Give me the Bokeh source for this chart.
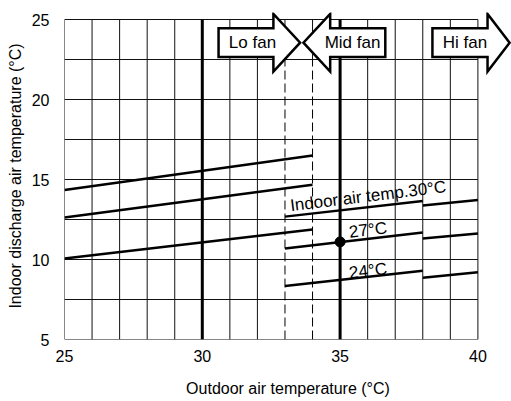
import numpy as np
from bokeh.plotting import figure
from bokeh.models import Range1d, FixedTicker
from bokeh.core.properties import value
from bokeh.embed import file_html
from bokeh.resources import INLINE

# ---- data ----
lofan_x = [25, 34]
lofan_30 = [14.35, 16.50]
lofan_27 = [12.63, 14.67]
lofan_24 = [10.06, 11.88]

mid_x = [33, 38]
hi_x = [38, 40]
mid_30 = [12.68, 13.66]
hi_30 = [13.38, 13.72]
mid_27 = [10.69, 11.69]
hi_27 = [11.31, 11.62]
mid_24 = [8.35, 9.30]
hi_24 = [8.86, 9.20]

design_x = [35]
design_y = [11.1]

x_ticks = [25, 30, 35, 40]
y_ticks = [5, 10, 15, 20, 25]

curve_labels = ["Indoor air temp.30°C", "27°C", "24°C"]
label_x = [33.19, 35.33, 35.33]
label_y = [13.36, 11.70, 9.15]

fan_labels = ["Lo fan", "Mid fan", "Hi fan"]
fan_tail = [30.59, 36.64, 38.35]
fan_base = [32.58, 34.64, 40.35]
fan_tip = [33.55, 33.67, 41.15]
fan_text_x = [31.82, 35.45, 39.53]

FONT = "Liberation Sans"
X0, X1, Y0, Y1 = 25, 40, 5, 25
FW, FH = 447, 327
xs_per_unit = 27.56
ys_per_unit = 16.0

p = figure(frame_width=FW, frame_height=FH,
           x_range=Range1d(X0, X0 + FW / xs_per_unit),
           y_range=Range1d(Y0, Y0 + FH / ys_per_unit),
           output_backend="svg", toolbar_location=None,
           min_border_left=64, min_border_right=0,
           min_border_top=12, min_border_bottom=62)
p.outline_line_color = None
p.xgrid.visible = False
p.ygrid.visible = False

for ax, ticks in ((p.xaxis, x_ticks), (p.yaxis, y_ticks)):
    ax.ticker = FixedTicker(ticks=ticks)
    ax.axis_line_color = None
    ax.major_tick_line_color = None
    ax.minor_tick_line_color = None
    ax.major_tick_out = 0
    ax.major_tick_in = 0
    ax.minor_tick_out = 0
    ax.major_label_text_font = FONT
    ax.major_label_text_font_size = "16px"
    ax.major_label_text_color = "black"
    ax.axis_label_text_font = FONT
    ax.axis_label_text_font_size = "16px"
    ax.axis_label_text_font_style = "normal"
    ax.axis_label_text_color = "black"

p.xaxis.axis_label = "Outdoor air temperature (°C)"
p.yaxis.axis_label = "Indoor discharge air temperature (°C)"
p.xaxis.major_label_standoff = 10
p.xaxis.axis_label_standoff = 15
p.yaxis.major_label_standoff = 15
p.yaxis.axis_label_standoff = 5

# ---- grid ----
gx = [x for x in range(X0, X1 + 1) if x not in (30, 35, 33, 34)]
p.segment(x0=gx, y0=[Y0] * len(gx), x1=gx, y1=[Y1] * len(gx),
          line_color="#111111", line_width=1)
gy = list(np.arange(Y0, Y1 + 0.1, 2.5))
p.segment(x0=[X0] * len(gy), y0=gy, x1=[X1] * len(gy), y1=gy,
          line_color="#111111", line_width=1)
# dashed fan-switch lines
p.segment(x0=[33, 34], y0=[22.5, 22.5], x1=[33, 34], y1=[Y1, Y1],
          line_color="#111111", line_width=1)
p.segment(x0=[33, 34], y0=[Y0, Y0], x1=[33, 34], y1=[22.5, 22.5],
          line_color="black", line_width=1, line_dash="9 4")
# heavy lines
p.segment(x0=[30, 35], y0=[Y0, Y0], x1=[30, 35], y1=[Y1, Y1],
          line_color="black", line_width=3)

# ---- curves ----
for ys in (lofan_30, lofan_27, lofan_24):
    p.line(lofan_x, ys, line_color="black", line_width=2.5)
for ys in (mid_30, mid_27, mid_24):
    p.line(mid_x, ys, line_color="black", line_width=2.5)
for ys in (hi_30, hi_27, hi_24):
    p.line(hi_x, ys, line_color="black", line_width=2.5)

p.scatter(design_x, design_y, size=10, fill_color="black", line_color="black")

p.text(x=label_x, y=label_y, text=curve_labels, angle=7, angle_units="deg",
       text_font=value(FONT), text_font_size="17px", text_color="black",
       text_align="left", text_baseline="alphabetic")

# ---- fan arrows ----
cy, bh, hh = 23.55, 0.9, 1.8
pxs, pys = [], []
for t, b, tip in zip(fan_tail, fan_base, fan_tip):
    pxs.append([t, b, b, tip, b, b, t])
    pys.append([cy - bh, cy - bh, cy - hh, cy, cy + hh, cy + bh, cy + bh])
p.patches(pxs, pys, fill_color="white", line_color="black", line_width=2.5,
          line_join="miter")
p.text(x=fan_text_x, y=[cy] * 3, text=fan_labels, text_font=value(FONT),
       text_font_size="17px", text_color="black",
       text_align="center", text_baseline="middle")

open("out.html", "w").write(file_html(p, INLINE))
